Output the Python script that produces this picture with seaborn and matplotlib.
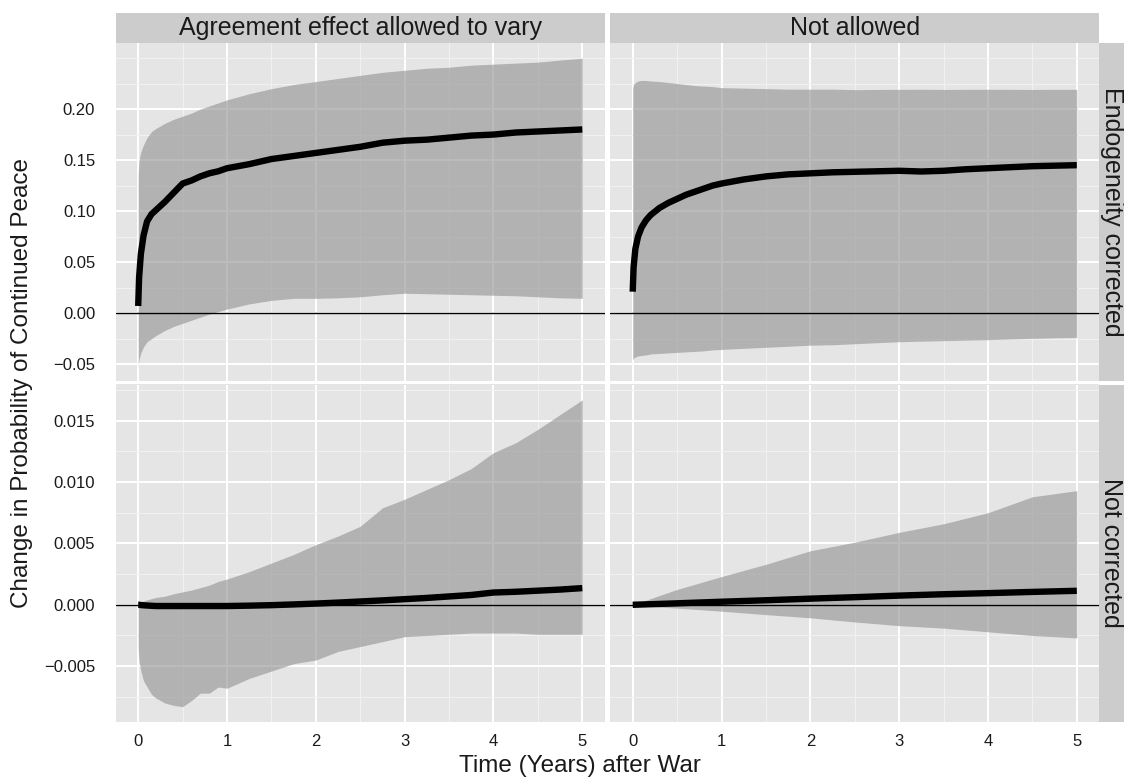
import matplotlib
matplotlib.use("Agg")
import numpy as np
import pandas as pd
import matplotlib.pyplot as plt
import seaborn as sns
from matplotlib.patches import Rectangle

# ---------------------------------------------------------------- data
COL_LEVELS = ["Agreement effect allowed to vary", "Not allowed"]
ROW_LEVELS = ["Endogeneity corrected", "Not corrected"]

TIME = [0, 0.01, 0.03, 0.06, 0.1, 0.15, 0.2, 0.3, 0.4, 0.5, 0.6, 0.7, 0.8, 0.9,
        1.0, 1.25, 1.5, 1.75, 2.0, 2.25, 2.5, 2.75, 3.0, 3.25, 3.5, 3.75, 4.0,
        4.25, 4.5, 4.75, 5.0]
TIME_COARSE = [0, 0.5, 1.0, 1.5, 2.0, 2.5, 3.0, 3.5, 4.0, 4.5, 5.0]

# agreement effect allowed to vary, endogeneity corrected
VARY_ENDO_MEAN = [0.007, 0.035, 0.058, 0.076, 0.090, 0.097, 0.101, 0.109, 0.118, 0.127,
                  0.130, 0.134, 0.137, 0.139, 0.142, 0.146, 0.151, 0.154, 0.157, 0.160,
                  0.163, 0.167, 0.169, 0.170, 0.172, 0.174, 0.175, 0.177, 0.178, 0.179,
                  0.180]
VARY_ENDO_LOWER = [-0.051, -0.045, -0.039, -0.033, -0.028, -0.025, -0.022, -0.017, -0.013,
                   -0.010, -0.007, -0.004, -0.001, 0.0015, 0.004, 0.009, 0.0125, 0.0145,
                   0.0145, 0.015, 0.016, 0.018, 0.0195, 0.019, 0.0185, 0.018, 0.0175,
                   0.017, 0.016, 0.015, 0.0145]
VARY_ENDO_UPPER = [0.135, 0.150, 0.158, 0.165, 0.172, 0.178, 0.181, 0.186, 0.190, 0.193,
                   0.196, 0.200, 0.203, 0.206, 0.209, 0.215, 0.220, 0.224, 0.227, 0.230,
                   0.233, 0.236, 0.238, 0.240, 0.241, 0.243, 0.244, 0.245, 0.246, 0.248,
                   0.2497]

# agreement effect not allowed to vary, endogeneity corrected
FIXED_ENDO_MEAN = [0.021, 0.045, 0.063, 0.075, 0.084, 0.091, 0.096, 0.103, 0.108, 0.112,
                   0.116, 0.119, 0.122, 0.125, 0.127, 0.131, 0.134, 0.136, 0.137, 0.138,
                   0.1385, 0.139, 0.1395, 0.1388, 0.1395, 0.141, 0.142, 0.143, 0.144,
                   0.1445, 0.145]
FIXED_ENDO_LOWER = [-0.046, -0.044, -0.043, -0.042, -0.0415, -0.041, -0.040, -0.0395,
                    -0.039, -0.0385, -0.038, -0.0375, -0.037, -0.036, -0.0356, -0.0345,
                    -0.0335, -0.0325, -0.0314, -0.031, -0.030, -0.029, -0.028, -0.0275,
                    -0.027, -0.0265, -0.026, -0.0253, -0.0247, -0.0242, -0.0238]
FIXED_ENDO_UPPER = [0.221, 0.224, 0.226, 0.2275, 0.228, 0.228, 0.2275, 0.227, 0.226, 0.225,
                    0.224, 0.223, 0.2225, 0.222, 0.221, 0.2205, 0.220, 0.2195, 0.2195,
                    0.2195, 0.219, 0.2192, 0.2193, 0.2194, 0.2192, 0.2193, 0.2194, 0.2193,
                    0.2192, 0.2193, 0.2193]

# agreement effect allowed to vary, not corrected
VARY_RAW_MEAN = [0.0, 0.0, -0.00002, -0.00004, -0.00006, -0.00008, -0.0001, -0.0001,
                 -0.0001, -0.0001, -0.0001, -0.0001, -0.0001, -0.0001, -0.0001, -0.00007,
                 -0.00003, 0.00003, 0.0001, 0.00018, 0.00027, 0.00036, 0.00046, 0.00056,
                 0.00068, 0.0008, 0.001, 0.00106, 0.00115, 0.00124, 0.00136]
VARY_RAW_LOWER = [-0.0035, -0.0046, -0.0054, -0.0062, -0.0067, -0.0073, -0.0076, -0.0080,
                  -0.0082, -0.0083, -0.0078, -0.0072, -0.0072, -0.0067, -0.0068, -0.0060,
                  -0.0054, -0.0048, -0.0045, -0.0038, -0.0034, -0.0030, -0.0026, -0.0025,
                  -0.0024, -0.0023, -0.0023, -0.0023, -0.0024, -0.0024, -0.0024]
VARY_RAW_UPPER = [0.0001, 0.00015, 0.0002, 0.0003, 0.0004, 0.0005, 0.0006, 0.0007, 0.0009,
                  0.00105, 0.0012, 0.0014, 0.0016, 0.0019, 0.0021, 0.0027, 0.0034, 0.0041,
                  0.0049, 0.0056, 0.0064, 0.0079, 0.0086, 0.0094, 0.0102, 0.0111, 0.0124,
                  0.0132, 0.0143, 0.0155, 0.0167]

# agreement effect not allowed to vary, not corrected
FIXED_RAW_MEAN = [0.0, 0.00012, 0.00025, 0.00037, 0.0005, 0.00062, 0.00075, 0.00086,
                  0.00095, 0.00105, 0.00114]
FIXED_RAW_LOWER = [-0.00005, -0.00027, -0.00052, -0.0008, -0.00106, -0.0014, -0.0017,
                   -0.0019, -0.0022, -0.0025, -0.0027]
FIXED_RAW_UPPER = [0.0, 0.00125, 0.0023, 0.0033, 0.0044, 0.0051, 0.0059, 0.0066, 0.0075,
                   0.0088, 0.0093]

X_TICKS = [0, 1, 2, 3, 4, 5]
Y_TICKS = [[-0.05, 0.0, 0.05, 0.10, 0.15, 0.20],
           [-0.005, 0.0, 0.005, 0.010, 0.015]]
Y_DECIMALS = [2, 3]

PANELS = [
    (COL_LEVELS[0], ROW_LEVELS[0], TIME, VARY_ENDO_MEAN, VARY_ENDO_LOWER, VARY_ENDO_UPPER),
    (COL_LEVELS[1], ROW_LEVELS[0], TIME, FIXED_ENDO_MEAN, FIXED_ENDO_LOWER, FIXED_ENDO_UPPER),
    (COL_LEVELS[0], ROW_LEVELS[1], TIME, VARY_RAW_MEAN, VARY_RAW_LOWER, VARY_RAW_UPPER),
    (COL_LEVELS[1], ROW_LEVELS[1], TIME_COARSE, FIXED_RAW_MEAN, FIXED_RAW_LOWER, FIXED_RAW_UPPER),
]

df = pd.concat(
    [pd.DataFrame({"model": c, "correction": r, "time": t,
                   "estimate": m, "lower": lo, "upper": hi})
     for c, r, t, m, lo, hi in PANELS],
    ignore_index=True,
)

# ---------------------------------------------------------------- style
W, H = 1124, 780
PANEL_BG = "#E5E5E5"
STRIP_BG = "#CCCCCC"
RIBBON = "#939393"
TEXT = "#1A1A1A"

sns.set_theme(style="darkgrid", rc={"axes.facecolor": PANEL_BG, "grid.color": "white"})
plt.rcParams["font.family"] = ["Liberation Sans", "DejaVu Sans"]


def draw_band(data, **kws):
    ax = plt.gca()
    ax.fill_between(data["time"], data["lower"], data["upper"],
                    color=RIBBON, alpha=0.62, lw=0, zorder=1)
    ax.axhline(0, color="black", lw=1.0, zorder=2)
    sns.lineplot(data=data, x="time", y="estimate", ax=ax, color="black",
                 lw=4.6, estimator=None, sort=False, zorder=3,
                 solid_capstyle="butt", solid_joinstyle="round")


g = sns.FacetGrid(df, row="correction", col="model",
                  row_order=ROW_LEVELS, col_order=COL_LEVELS,
                  sharex=True, sharey="row", height=3.375, aspect=488 / 337.5,
                  despine=False)
g.map_dataframe(draw_band)
g.set_titles("")
g.set_axis_labels("", "")

fig = g.figure
fig.set_size_inches(W / 100, H / 100)
fig.subplots_adjust(left=116 / W, right=1099 / W, top=1 - 43 / H, bottom=1 - 722 / H,
                    wspace=6 / 488.5, hspace=4 / 337.5)


def minor_breaks(major, lo, hi):
    step = major[1] - major[0]
    ext = [major[0] - step] + list(major) + [major[-1] + step]
    mids = [(a + b) / 2 for a, b in zip(ext[:-1], ext[1:])]
    extra = [ext[0], ext[-1]]
    return sorted(v for v in mids + extra if lo <= v <= hi)


t_all = df["time"]
t_pad = 0.05 * (t_all.max() - t_all.min())
xlim = (t_all.min() - t_pad, t_all.max() + t_pad)

for i, row in enumerate(ROW_LEVELS):
    sub = df[df["correction"] == row]
    lo, hi = sub["lower"].min(), sub["upper"].max()
    pad = 0.05 * (hi - lo)
    ylim = (lo - pad, hi + pad)
    fmt = "{:.%df}" % Y_DECIMALS[i]
    labels = [fmt.format(v).replace("-", "\u2212") for v in Y_TICKS[i]]
    for j in range(len(COL_LEVELS)):
        ax = g.axes[i, j]
        ax.set_xlim(*xlim)
        ax.set_ylim(*ylim)
        ax.set_xticks(X_TICKS)
        ax.set_xticks(minor_breaks(X_TICKS, *xlim), minor=True)
        ax.set_yticks(Y_TICKS[i])
        ax.set_yticks(minor_breaks(Y_TICKS[i], *ylim), minor=True)
        if j == 0:
            ax.set_yticklabels(labels)
        ax.grid(True, which="major", color="white", lw=1.4)
        ax.grid(True, which="minor", color="#F2F2F2", lw=0.7)
        ax.set_axisbelow(True)
        for sp in ax.spines.values():
            sp.set_visible(False)
        ax.tick_params(which="both", length=0, colors=TEXT, labelsize=12)
        ax.tick_params(axis="y", pad=15)
        ax.tick_params(axis="x", pad=9)
        ax.set_xlabel("")
        ax.set_ylabel("")

# facet strips
strip_h = 30 / H
strip_w = 25 / W
for j, name in enumerate(COL_LEVELS):
    pos = g.axes[0, j].get_position()
    fig.add_artist(Rectangle((pos.x0, pos.y1), pos.width, strip_h,
                             transform=fig.transFigure, facecolor=STRIP_BG,
                             edgecolor="none"))
    fig.text(pos.x0 + pos.width / 2, pos.y1 + strip_h / 2, name,
             ha="center", va="center", fontsize=18, color=TEXT)
for i, name in enumerate(ROW_LEVELS):
    pos = g.axes[i, -1].get_position()
    fig.add_artist(Rectangle((pos.x1, pos.y0), strip_w, pos.height,
                             transform=fig.transFigure, facecolor=STRIP_BG,
                             edgecolor="none"))
    fig.text(pos.x1 + strip_w / 2, pos.y0 + pos.height / 2, name,
             ha="center", va="center", rotation=-90, fontsize=18, color=TEXT)

fig.text(22 / W, 1 - 382.5 / H, "Change in Probability of Continued Peace",
         rotation=90, ha="center", va="center", fontsize=17.5, color=TEXT)
fig.text(580 / W, 1 - 766 / H, "Time (Years) after War",
         ha="center", va="center", fontsize=17.5, color=TEXT)

fig.savefig("out.png", dpi=100)
